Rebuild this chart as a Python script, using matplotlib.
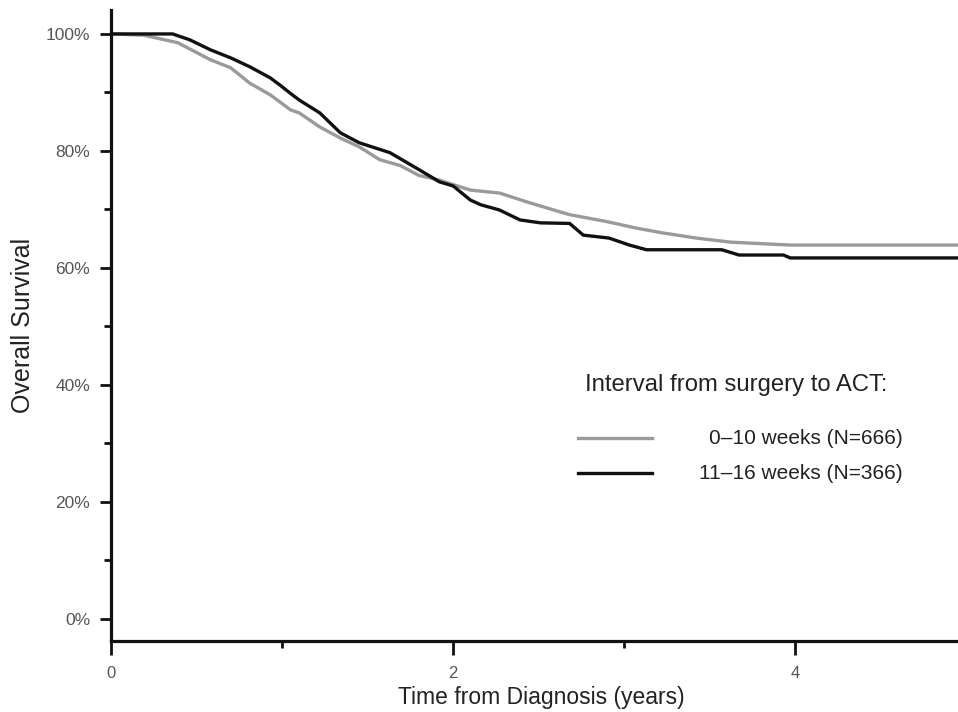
import matplotlib
matplotlib.use("Agg")
import matplotlib.pyplot as plt
from matplotlib.lines import Line2D
from matplotlib.ticker import MultipleLocator, FuncFormatter

plt.rcParams['font.family'] = ['Liberation Sans', 'DejaVu Sans']

# Kaplan-Meier overall survival estimates (years, %)
time_early = [0.00, 0.19, 0.39, 0.58, 0.70, 0.81, 0.93, 1.05, 1.10, 1.22, 1.34,
              1.45, 1.57, 1.69, 1.80, 1.92, 2.10, 2.27, 2.45, 2.68, 2.90, 3.07,
              3.22, 3.42, 3.62, 3.97, 4.95]
surv_early = [100.0, 99.8, 98.5, 95.6, 94.2, 91.6, 89.6, 87.0, 86.5, 84.1, 82.2,
              80.7, 78.5, 77.5, 75.8, 75.0, 73.3, 72.8, 71.1, 69.1, 67.9, 66.8,
              66.0, 65.1, 64.4, 63.9, 63.9]

time_late = [0.00, 0.36, 0.46, 0.58, 0.70, 0.81, 0.93, 0.99, 1.05, 1.10, 1.22,
             1.34, 1.45, 1.63, 1.80, 1.92, 2.00, 2.10, 2.16, 2.27, 2.39, 2.51,
             2.68, 2.76, 2.91, 3.03, 3.13, 3.57, 3.67, 3.93, 3.97, 4.95]
surv_late = [100.0, 100.0, 99.0, 97.3, 95.9, 94.4, 92.5, 91.2, 89.8, 88.7, 86.5,
             83.1, 81.4, 79.7, 76.8, 74.7, 74.0, 71.6, 70.8, 69.9, 68.2, 67.7,
             67.6, 65.6, 65.1, 63.9, 63.1, 63.1, 62.2, 62.2, 61.7, 61.7]

group_labels = ["0\u201310 weeks (N=666)", "11\u201316 weeks (N=366)"]
legend_title = "Interval from surgery to ACT:"
x_ticks = [0, 2, 4]
y_ticks = [0, 20, 40, 60, 80, 100]

gray = "#9a9a9a"
black = "#111111"

fig = plt.figure(figsize=(9.58, 7.12), dpi=100)
ax = fig.add_axes([0.1159, 0.0997, 0.8841, 0.8863])

ax.plot(time_early, surv_early, color=gray, lw=2.4, solid_joinstyle='miter')
ax.plot(time_late, surv_late, color=black, lw=2.4, solid_joinstyle='miter')

ax.set_xlim(0, 4.95)
ax.set_ylim(-3.8, 104.1)

for side in ("top", "right"):
    ax.spines[side].set_visible(False)
for side in ("left", "bottom"):
    ax.spines[side].set_linewidth(2.3)
    ax.spines[side].set_color("#111111")

ax.set_xticks(x_ticks)
ax.xaxis.set_minor_locator(MultipleLocator(1))
ax.set_yticks(y_ticks)
ax.yaxis.set_minor_locator(MultipleLocator(10))
ax.yaxis.set_major_formatter(FuncFormatter(lambda v, p: f"{v:.0f}%"))

ax.tick_params(axis='x', which='major', length=10, width=2.0, direction='out',
               labelsize=12, labelcolor="#555555", pad=8, color="#111111")
ax.tick_params(axis='x', which='minor', length=5, width=2.0, direction='out', color="#111111")
ax.tick_params(axis='y', which='major', length=8, width=2.0, direction='out',
               labelsize=12.5, labelcolor="#555555", pad=7, color="#111111")
ax.tick_params(axis='y', which='minor', length=5, width=2.0, direction='out', color="#111111")

ax.set_xlabel("Time from Diagnosis (years)", fontsize=16.5, color="#222222", va='top')
ax.xaxis.set_label_coords(0.508, -0.071)
ax.set_ylabel("Overall Survival", fontsize=18, color="#222222", labelpad=8)

# Legend drawn by hand in axes fraction coordinates
ax.text(0.5596, 0.4057, legend_title, transform=ax.transAxes, fontsize=17.2,
        color="#222222", ha='left', va='center')
ax.add_line(Line2D([0.5514, 0.6387], [0.3217, 0.3217], transform=ax.transAxes,
                   color=gray, lw=2.4))
ax.add_line(Line2D([0.5514, 0.6387], [0.2662, 0.2662], transform=ax.transAxes,
                   color=black, lw=2.4))
ax.text(0.935, 0.3217, group_labels[0], transform=ax.transAxes, fontsize=15,
        color="#222222", ha='right', va='center')
ax.text(0.935, 0.2662, group_labels[1], transform=ax.transAxes, fontsize=15,
        color="#222222", ha='right', va='center')

fig.savefig("out.png", dpi=100, facecolor="white")
